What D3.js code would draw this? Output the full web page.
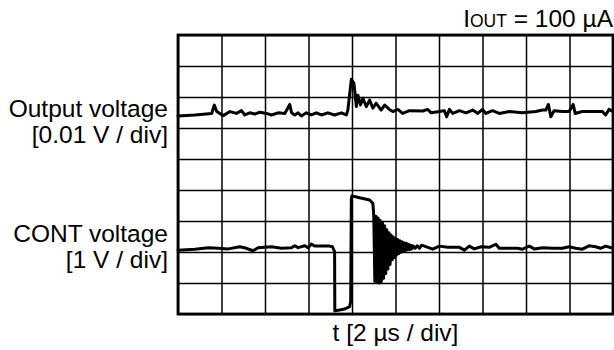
<!DOCTYPE html>
<html>
<head>
<meta charset="utf-8">
<script src="https://cdn.jsdelivr.net/npm/d3@7"></script>
<style>
  html, body { margin: 0; padding: 0; background: #fff; }
  svg { display: block; }
  text { font-family: "Liberation Sans", Arial, sans-serif; fill: #000; }
</style>
</head>
<body>
<svg id="chart" width="614" height="350"></svg>
<script>
// time in µs (2 µs / div, 10 div), value in screen divisions (0 = bottom, 9 = top)
const timeTicks = [0, 2, 4, 6, 8, 10, 12, 14, 16, 18, 20];
const divTicks = [0, 1, 2, 3, 4, 5, 6, 7, 8, 9];

const outputVoltage = [
  [0.00, 6.39], [0.78, 6.42], [1.55, 6.47], [1.67, 6.74], [1.78, 6.53], [2.08, 6.40],
  [2.39, 6.53], [2.69, 6.47], [2.92, 6.56], [3.07, 6.42], [3.30, 6.49], [3.53, 6.45],
  [3.76, 6.51], [4.07, 6.47], [4.30, 6.42], [4.60, 6.49], [4.91, 6.47], [5.14, 6.76],
  [5.22, 6.49], [5.37, 6.42], [5.52, 6.49], [5.67, 6.39], [5.90, 6.49], [6.13, 6.42],
  [6.36, 6.49], [6.59, 6.42], [6.89, 6.49], [7.20, 6.42], [7.51, 6.49], [7.74, 6.42],
  [7.81, 6.58], [7.97, 7.57], [8.09, 7.44], [8.20, 6.69], [8.27, 7.06], [8.39, 6.74],
  [8.50, 6.96], [8.66, 6.69], [8.81, 6.90], [8.96, 6.64], [9.11, 6.80], [9.34, 6.58],
  [9.50, 6.74], [9.72, 6.60], [9.88, 6.53], [10.11, 6.60], [10.33, 6.47], [10.64, 6.56],
  [11.25, 6.55], [11.48, 6.60], [11.64, 6.49], [12.02, 6.53], [12.25, 6.56], [12.35, 6.36],
  [12.48, 6.60], [12.63, 6.47], [12.94, 6.56], [13.24, 6.49], [13.55, 6.58], [13.78, 6.47],
  [14.00, 6.60], [14.16, 6.47], [14.46, 6.56], [14.77, 6.47], [15.23, 6.53], [15.84, 6.49],
  [16.45, 6.53], [16.76, 6.58], [16.91, 6.58], [17.03, 6.76], [17.14, 6.36], [17.29, 6.56],
  [17.67, 6.53], [17.98, 6.53], [18.17, 6.76], [18.26, 6.47], [18.59, 6.53], [19.51, 6.53],
  [19.66, 6.42], [19.82, 6.60], [20.00, 6.53]
];

const contVoltage = [
  [0.00, 2.06], [0.78, 2.09], [1.39, 2.14], [1.85, 2.12], [2.31, 2.10], [2.84, 2.17],
  [3.15, 2.12], [3.45, 2.04], [3.68, 2.14], [4.30, 2.17], [4.76, 2.12], [5.22, 2.14],
  [5.37, 2.20], [5.52, 2.14], [5.83, 2.20], [5.98, 2.14], [6.13, 2.26], [6.28, 2.19],
  [6.97, 2.19], [7.10, 2.17], [7.20, 2.01], [7.21, 0.10], [7.43, 0.13], [7.66, 0.16],
  [7.89, 0.24], [7.94, 0.40], [7.97, 3.73], [8.00, 3.81], [8.35, 3.75], [8.81, 3.68],
  [8.96, 3.57], [9.00, 3.19], [9.05, 1.05], [9.10, 3.15], [9.15, 1.02], [9.20, 3.10],
  [9.25, 1.00], [9.30, 3.02], [9.35, 1.05], [9.40, 2.95], [9.45, 1.15], [9.50, 2.85],
  [9.55, 1.30], [9.60, 2.72], [9.65, 1.45], [9.70, 2.62], [9.75, 1.60], [9.80, 2.55],
  [9.85, 1.75], [9.90, 2.48], [9.95, 1.82], [10.00, 2.44], [10.05, 1.90], [10.10, 2.40],
  [10.15, 1.95], [10.20, 2.36], [10.25, 1.99], [10.30, 2.33], [10.35, 2.02], [10.40, 2.30],
  [10.45, 2.05], [10.50, 2.28], [10.55, 2.07], [10.60, 2.25], [10.65, 2.08], [10.70, 2.22],
  [10.75, 2.10], [10.80, 2.20], [10.90, 2.12], [11.00, 2.20], [11.10, 2.12], [11.20, 2.22],
  [11.71, 2.09], [12.02, 2.19], [12.40, 2.15], [12.94, 2.15], [13.17, 2.06], [13.39, 2.19],
  [13.62, 2.10], [13.93, 2.17], [14.31, 2.15], [14.62, 2.25], [14.77, 2.12], [15.23, 2.12],
  [15.61, 2.12], [15.84, 2.09], [16.15, 2.19], [16.38, 2.10], [16.76, 2.14], [17.22, 2.12],
  [17.67, 2.12], [17.98, 2.17], [18.29, 2.12], [18.59, 2.09], [18.90, 2.20], [19.20, 2.17],
  [19.43, 2.12], [19.66, 2.19], [20.00, 2.12]
];

const leftLabels = [
  { lines: ["Output voltage", "[0.01 V / div]"] },
  { lines: ["CONT voltage", "[1 V / div]"] }
];
const xLabel = "t [2 µs / div]";

const svg = d3.select("#chart");
const L = 178, R = 613, T = 35, B = 314;
const x = d3.scaleLinear().domain([0, 20]).range([L, R]);
const y = d3.scaleLinear().domain([0, 9]).range([B, T]);

// grid
svg.append("g")
  .attr("transform", `translate(0,${B})`)
  .call(d3.axisBottom(x).tickValues(timeTicks).tickSize(-(B - T)).tickFormat(""))
  .call(g => g.select(".domain").remove())
  .call(g => g.selectAll("line").attr("stroke", "#000").attr("stroke-width", 1.5));
svg.append("g")
  .attr("transform", `translate(${L},0)`)
  .call(d3.axisLeft(y).tickValues(divTicks).tickSize(-(R - L)).tickFormat(""))
  .call(g => g.select(".domain").remove())
  .call(g => g.selectAll("line").attr("stroke", "#000").attr("stroke-width", 1.5));

// frame
svg.append("rect")
  .attr("x", L).attr("y", T).attr("width", R - L).attr("height", B - T)
  .attr("fill", "none").attr("stroke", "#000").attr("stroke-width", 2.8);

const line = d3.line().x(d => x(d[0])).y(d => y(d[1]));
[outputVoltage, contVoltage].forEach(s => {
  svg.append("path").datum(s).attr("d", line)
    .attr("fill", "none").attr("stroke", "#000").attr("stroke-width", 3)
    .attr("stroke-linejoin", "round").attr("stroke-linecap", "round");
});

// left labels
const lbl = [[116.7, 143.3], [241.7, 268.3]];
leftLabels.forEach((l, i) => {
  l.lines.forEach((t, j) => {
    svg.append("text").attr("x", 168).attr("y", lbl[i][j])
      .attr("text-anchor", "end").attr("font-size", 24.5).text(t);
  });
});

// x label
svg.append("text").attr("x", (L + R) / 2).attr("y", 341)
  .attr("text-anchor", "middle").attr("font-size", 24.5).text(xLabel);

// title
const title = svg.append("text").attr("x", 613).attr("y", 27.3)
  .attr("text-anchor", "end").attr("font-size", 24.5);
title.append("tspan").text("I");
title.append("tspan").attr("font-size", 17.5).text("OUT");
title.append("tspan").text(" = 100 µA");
</script>
</body>
</html>
